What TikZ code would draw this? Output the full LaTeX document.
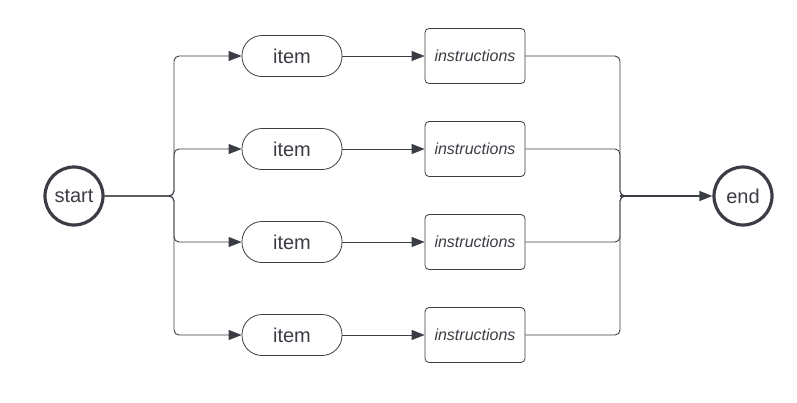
\documentclass[tikz,border=0pt]{standalone}
\usepackage{fontspec}
\setmainfont{Liberation Sans}
\usepackage{xcolor}
\usetikzlibrary{arrows.meta}
\definecolor{ink}{HTML}{3A3D44}

\begin{document}
\begin{tikzpicture}[x=1pt, y=-1pt,
        term/.style={circle, draw=ink, line width=3.2pt, minimum size=58pt, inner sep=0pt, font=\fontsize{20}{24}\selectfont, text=ink},
        item/.style={rectangle, rounded corners=20pt, draw=ink, line width=0.8pt, minimum width=100pt, minimum height=41pt, font=\fontsize{20}{24}\selectfont, text=ink},
        instr/.style={rectangle, rounded corners=4pt, draw=ink, line width=0.8pt, minimum width=100pt, minimum height=55pt, font=\fontsize{16}{19}\selectfont\itshape, text=ink},
        link/.style={draw=ink, line width=0.9pt, rounded corners=5pt},
        arrow/.style={link, -{Triangle[length=13pt, width=10pt]}}]
        \useasboundingbox (0, 0) rectangle (797, 402);

        \node[term] (start) at (74, 196) {start};
        \node[term] (end) at (743, 196) {end};

        \node[item] (item1) at (292, 56) {item};
        \node[item] (item2) at (292, 149) {item};
        \node[item] (item3) at (292, 242) {item};
        \node[item] (item4) at (292, 335) {item};

        \node[instr] (instr1) at (475, 56) {instructions};
        \node[instr] (instr2) at (475, 149) {instructions};
        \node[instr] (instr3) at (475, 242) {instructions};
        \node[instr] (instr4) at (475, 335) {instructions};

        \coordinate (fork) at (174, 196);
        \coordinate (join) at (620, 196);
        \coordinate (joinout) at (640, 196);

        % fan out
        \draw[arrow] (start) -- (fork) |- (item1);
        \draw[arrow] (start) -- (fork) |- (item2);
        \draw[arrow] (start) -- (fork) |- (item3);
        \draw[arrow] (start) -- (fork) |- (item4);

        \draw[arrow] (item1) -- (instr1);
        \draw[arrow] (item2) -- (instr2);
        \draw[arrow] (item3) -- (instr3);
        \draw[arrow] (item4) -- (instr4);

        % fan in
        \draw[link] (instr1) -| (join) -- (joinout);
        \draw[link] (instr2) -| (join) -- (joinout);
        \draw[link] (instr3) -| (join) -- (joinout);
        \draw[link] (instr4) -| (join) -- (joinout);
        \draw[arrow, line width=1.2pt] (join) -- (end);
    \end{tikzpicture}
\end{document}
